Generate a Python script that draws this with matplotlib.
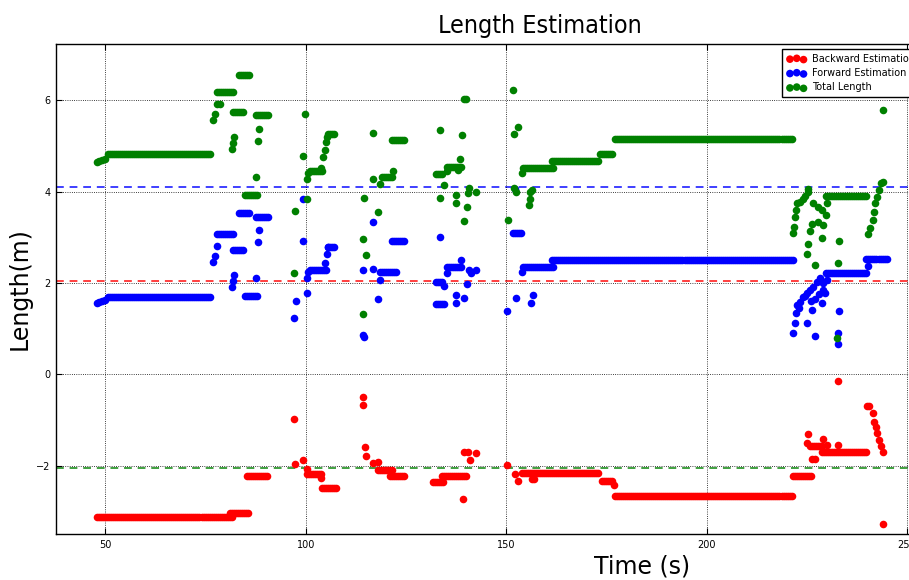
import numpy as np
import matplotlib
matplotlib.use('Agg')
import matplotlib.pyplot as plt
from matplotlib.ticker import MultipleLocator

# plateaus: (t_start, t_end, value), sampled every 0.5 s
back_seg = [(48.0, 81.9, -3.13), (81.0, 85.6, -3.04), (85.3, 90.3, -2.23),
            (100.3, 104.1, -2.19), (104.1, 107.8, -2.50), (118.1, 121.6, -2.10),
            (121.1, 124.8, -2.23), (131.8, 134.3, -2.37), (134.1, 140.2, -2.23),
            (154.0, 173.4, -2.17), (173.9, 176.7, -2.34), (177.2, 221.6, -2.67),
            (221.6, 226.4, -2.23), (225.9, 229.1, -1.58), (228.9, 240.1, -1.71)]
back_t = [97.1, 97.3, 99.3, 100.3, 103.8, 114.4, 114.4, 114.9, 115.1, 116.9, 118.1,
          139.3, 139.5, 140.5, 141.0, 142.5, 150.2, 152.2, 153.0, 156.5, 157.0, 176.9,
          226.4, 227.1, 225.4, 225.1, 229.1, 230.1, 232.9, 232.9, 240.1, 240.6, 241.6,
          241.9, 242.4, 242.6, 242.9, 243.4, 244.1, 244.1]
back_v = [-0.99, -1.97, -1.88, -2.08, -2.28, -0.50, -0.68, -1.60, -1.80, -1.95, -1.93,
          -2.74, -1.71, -1.71, -1.88, -1.73, -1.99, -2.19, -2.34, -2.30, -2.30, -2.43,
          -1.86, -1.86, -1.31, -1.51, -1.42, -1.55, -0.15, -1.55, -0.70, -0.70, -0.85,
          -1.05, -1.16, -1.29, -1.44, -1.58, -1.71, -3.28]

fwd_seg = [(50.7, 76.6, 1.69), (77.9, 82.1, 3.07), (81.9, 84.6, 2.71), (83.4, 86.1, 3.52),
           (84.9, 88.1, 1.71), (87.6, 90.6, 3.44), (101.1, 105.1, 2.28), (105.6, 107.3, 2.79),
           (118.6, 122.8, 2.23), (121.6, 124.8, 2.91), (132.5, 134.3, 2.01), (132.5, 134.6, 1.53),
           (135.3, 139.0, 2.34), (151.7, 154.0, 3.09), (154.2, 161.7, 2.34), (161.5, 221.6, 2.50),
           (229.9, 240.1, 2.21), (239.9, 244.9, 2.52)]
fwd_t = [47.9, 48.5, 49.2, 50.0, 76.9, 77.4, 77.9, 81.6, 81.9, 82.1, 87.6, 88.1, 88.3,
         97.1, 97.6, 99.3, 99.3, 100.3, 100.3, 100.6, 104.8, 105.3, 105.6,
         114.4, 114.6, 114.4, 116.9, 116.9, 118.1, 118.6,
         133.5, 134.6, 135.3, 137.5, 137.5, 138.7, 139.5, 140.2, 140.7, 141.2, 142.5,
         150.2, 152.2, 152.5, 154.0, 156.2, 156.7,
         221.6, 222.1, 222.4, 222.6, 223.4, 224.1, 225.1, 225.9, 226.6, 227.6, 228.4,
         229.1, 229.6, 228.9, 226.4, 225.1, 227.1, 233.1, 232.9, 232.9, 240.4, 230.1,
         223.0, 224.6, 226.0, 227.0, 228.0, 229.0]
fwd_v = [1.55, 1.57, 1.60, 1.63, 2.45, 2.58, 2.80, 1.90, 2.04, 2.17, 2.10, 2.89, 3.15,
         1.23, 1.61, 3.83, 2.91, 1.77, 2.10, 2.23, 2.43, 2.64, 2.78,
         2.28, 0.81, 0.86, 3.33, 2.30, 1.64, 2.06,
         3.00, 1.93, 2.21, 1.73, 1.55, 2.50, 1.66, 1.97, 2.28, 2.21, 2.28,
         1.38, 4.05, 1.66, 2.23, 1.55, 1.73,
         0.90, 1.12, 1.34, 1.51, 1.58, 1.69, 1.77, 1.84, 1.91, 2.01, 2.10,
         1.84, 1.77, 1.55, 1.40, 1.12, 0.83, 1.38, 0.90, 0.66, 2.36, 2.06,
         1.45, 1.72, 1.60, 1.65, 1.75, 2.00]

tot_seg = [(50.7, 76.6, 4.82), (77.9, 82.1, 6.17), (81.9, 84.6, 5.74), (83.4, 86.1, 6.55),
           (84.9, 88.1, 3.92), (87.6, 90.6, 5.67), (101.1, 104.1, 4.44), (105.6, 107.3, 5.26),
           (119.1, 121.8, 4.31), (121.6, 124.8, 5.12), (132.5, 134.3, 4.38), (135.3, 139.0, 4.53),
           (154.2, 161.7, 4.51), (161.5, 173.4, 4.66), (173.4, 176.7, 4.82), (177.2, 221.6, 5.15),
           (229.9, 240.1, 3.90)]
tot_t = [47.9, 48.5, 49.2, 50.0, 76.9, 77.4, 77.9, 78.5, 81.6, 81.9, 82.1, 87.6, 88.1, 88.3,
         97.3, 97.1, 99.8, 99.3, 100.3, 100.3, 100.6, 103.8, 104.3, 104.8, 105.1, 105.3,
         116.9, 116.9, 118.6, 121.8, 114.6, 118.1, 114.4, 115.1, 114.4,
         133.5, 139.0, 138.5, 135.3, 138.0, 134.6, 140.7, 140.5, 142.5, 133.5, 137.5, 137.5,
         140.2, 139.5, 139.5, 140.0,
         151.7, 153.0, 152.0, 150.5, 152.0, 152.5, 156.0, 156.0, 156.5, 155.7, 154.0,
         221.6, 221.8, 222.1, 222.4, 222.6, 223.4, 224.1, 224.6, 225.4, 225.4, 226.6, 227.9,
         228.9, 230.1, 229.9, 229.1, 227.9, 226.4, 225.9, 228.9, 233.1, 225.4, 225.1, 227.1,
         232.9, 232.6,
         240.4, 240.9, 241.6, 241.9, 242.1, 242.6, 242.9, 243.4, 244.1, 244.1]
tot_v = [4.64, 4.66, 4.68, 4.72, 5.56, 5.69, 5.91, 5.91, 4.93, 5.06, 5.19, 4.31, 5.10, 5.36,
         3.57, 2.21, 5.69, 4.77, 3.83, 4.27, 4.40, 4.51, 4.75, 4.90, 5.08, 5.19,
         5.28, 4.27, 4.16, 4.44, 3.85, 3.55, 2.96, 2.61, 1.31,
         5.34, 5.23, 4.71, 4.44, 4.47, 4.14, 4.07, 3.96, 4.00, 3.85, 3.92, 3.74,
         3.66, 3.35, 6.02, 6.02,
         6.22, 5.41, 5.26, 3.37, 4.07, 3.98, 4.00, 3.83, 4.03, 3.70, 4.40,
         3.09, 3.22, 3.44, 3.59, 3.74, 3.77, 3.83, 3.90, 3.98, 4.05, 3.74, 3.66,
         3.59, 3.74, 3.48, 3.26, 3.33, 3.29, 3.13, 2.98, 2.91, 2.85, 2.63, 2.39,
         2.43, 0.79,
         3.07, 3.20, 3.37, 3.55, 3.74, 3.88, 4.03, 4.18, 4.20, 5.78]

ref_lines = [(4.09, 'blue'), (2.04, 'red'), (-2.05, 'green')]


def expand(seg, t, v):
    ts, vs = [], []
    for a, b, val in seg:
        tt = np.arange(a, b + 0.01, 0.5)
        ts.extend(tt)
        vs.extend([val] * len(tt))
    return np.array(ts + list(t)), np.array(vs + list(v))


fig = plt.figure(figsize=(9.09, 5.8), dpi=100)
ax = fig.add_axes([56 / 909, 46 / 580, 869 / 909, 490 / 580])

for y, c in ref_lines:
    ax.axhline(y, color=c, ls='--', lw=1.4, alpha=0.75, dashes=(4, 3), zorder=1)

for seg, t, v, c, lab in [(back_seg, back_t, back_v, 'red', 'Backward Estimation'),
                          (fwd_seg, fwd_t, fwd_v, 'blue', 'Forward Estimation'),
                          (tot_seg, tot_t, tot_v, 'green', 'Total Length')]:
    tt, vv = expand(seg, t, v)
    ax.scatter(tt, vv, s=30, color=c, linewidths=0, label=lab, zorder=2)

ax.set_xlim(37.7, 254.5)
ax.set_ylim(-3.5, 7.23)
ax.xaxis.set_major_locator(MultipleLocator(50))
ax.yaxis.set_major_locator(MultipleLocator(2))
ax.grid(True, color='black', ls=':', lw=0.6)
ax.tick_params(direction='in', top=True, right=True, labelsize=7, length=4, pad=4)
for sp in ax.spines.values():
    sp.set_linewidth(1.0)

ax.set_title('Length Estimation', x=(540 - 56) / 869, fontsize=18,
             fontstretch='condensed', pad=8)
ax.set_xlabel('Time (s)', fontsize=17)
ax.xaxis.set_label_coords((642 - 56) / 869, -0.042)
ax.set_ylabel('Length(m)', fontsize=17)
ax.yaxis.set_label_coords(-0.028, 0.5)

ax.legend(loc='upper right', fontsize=7, scatterpoints=3,
          scatteryoffsets=[0.375, 0.5, 0.3125], fancybox=False, framealpha=1,
          edgecolor='black', borderaxespad=0.5, handletextpad=0.6, labelspacing=0.45,
          borderpad=0.5)

fig.savefig('out.png', dpi=100)
